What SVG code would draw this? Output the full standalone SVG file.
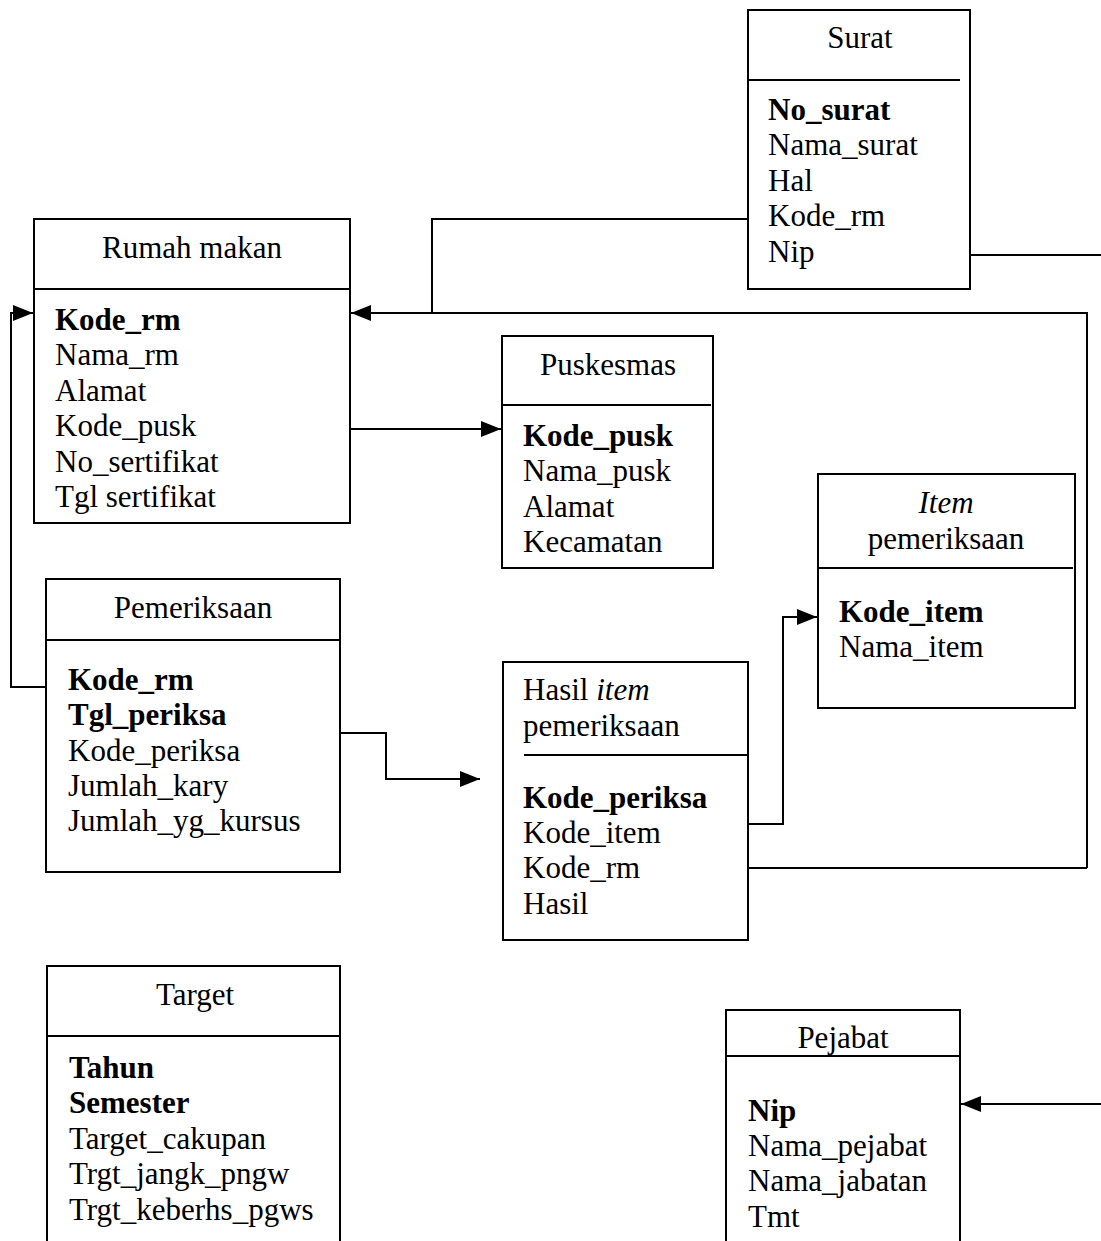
<svg xmlns="http://www.w3.org/2000/svg" width="1101" height="1241" viewBox="0 0 1101 1241">
<style>
.box{fill:#fff;stroke:#000;stroke-width:2}
.div{stroke:#000;stroke-width:2}
text{font-family:"Liberation Serif","Times New Roman",serif;font-size:31px;fill:#000}
.t{text-anchor:middle}
.b{font-weight:bold}
.i{font-style:italic}
.c{fill:none;stroke:#000;stroke-width:2}
</style>
<defs>
<marker id="ah" markerWidth="20" markerHeight="16" refX="20" refY="8" orient="auto" markerUnits="userSpaceOnUse">
<path d="M0,0 L20,8 L0,16 Z" fill="#000"/>
</marker>
</defs>
<rect width="1101" height="1241" fill="#fff"/>
<g id="connectors">
<path class="c" d="M748,219 H432 V313"/>
<path class="c" d="M1087,868 V313 H351" marker-end="url(#ah)"/>
<path class="c" d="M748,868 H1087"/>
<path class="c" d="M46,687 H11 V313 H33" marker-end="url(#ah)"/>
<path class="c" d="M350,429 H501" marker-end="url(#ah)"/>
<path class="c" d="M340,733 H386 V779 H480" marker-end="url(#ah)"/>
<path class="c" d="M748,824 H783 V617 H817" marker-end="url(#ah)"/>
<path class="c" d="M970,255 H1101"/>
<path class="c" d="M1101,1104 H961" marker-end="url(#ah)"/>
</g>
<g id="surat">
<rect class="box" x="748" y="10" width="222" height="279"/>
<line class="div" x1="748" y1="80" x2="960" y2="80"/>
<text class="t" x="860" y="48">Surat</text>
<text class="b" x="768" y="120">No_surat</text>
<text x="768" y="155">Nama_surat</text>
<text x="768" y="191">Hal</text>
<text x="768" y="226">Kode_rm</text>
<text x="768" y="262">Nip</text>
</g>
<g id="rumah-makan">
<rect class="box" x="34" y="219" width="316" height="304"/>
<line class="div" x1="34" y1="289" x2="350" y2="289"/>
<text class="t" x="192" y="258">Rumah makan</text>
<text class="b" x="55" y="330">Kode_rm</text>
<text x="55" y="365">Nama_rm</text>
<text x="55" y="401">Alamat</text>
<text x="55" y="436">Kode_pusk</text>
<text x="55" y="472">No_sertifikat</text>
<text x="55" y="507">Tgl sertifikat</text>
</g>
<g id="puskesmas">
<rect class="box" x="502" y="336" width="211" height="232"/>
<line class="div" x1="502" y1="405" x2="711" y2="405"/>
<text class="t" x="608" y="375">Puskesmas</text>
<text class="b" x="523" y="446">Kode_pusk</text>
<text x="523" y="481">Nama_pusk</text>
<text x="523" y="517">Alamat</text>
<text x="523" y="552">Kecamatan</text>
</g>
<g id="item-pemeriksaan">
<rect class="box" x="818" y="474" width="257" height="234"/>
<line class="div" x1="818" y1="568" x2="1073" y2="568"/>
<text class="t i" x="946" y="513">Item</text>
<text class="t" x="946" y="549">pemeriksaan</text>
<text class="b" x="839" y="622">Kode_item</text>
<text x="839" y="657">Nama_item</text>
</g>
<g id="pemeriksaan">
<rect class="box" x="46" y="579" width="294" height="293"/>
<line class="div" x1="46" y1="640" x2="340" y2="640"/>
<text class="t" x="193" y="618">Pemeriksaan</text>
<text class="b" x="68" y="690">Kode_rm</text>
<text class="b" x="68" y="725">Tgl_periksa</text>
<text x="68" y="761">Kode_periksa</text>
<text x="68" y="796">Jumlah_kary</text>
<text x="68" y="831">Jumlah_yg_kursus</text>
</g>
<g id="hasil-item-pemeriksaan">
<rect class="box" x="503" y="662" width="245" height="278"/>
<line class="div" x1="524" y1="755" x2="748" y2="755"/>
<text x="523" y="700">Hasil <tspan class="i">item</tspan></text>
<text x="523" y="736">pemeriksaan</text>
<text class="b" x="523" y="808">Kode_periksa</text>
<text x="523" y="843">Kode_item</text>
<text x="523" y="878">Kode_rm</text>
<text x="523" y="914">Hasil</text>
</g>
<g id="target">
<path class="c" d="M47,1241 V966 H340 V1241"/>
<line class="div" x1="47" y1="1036" x2="340" y2="1036"/>
<text class="t" x="195" y="1005">Target</text>
<text class="b" x="69" y="1078">Tahun</text>
<text class="b" x="69" y="1113">Semester</text>
<text x="69" y="1149">Target_cakupan</text>
<text x="69" y="1184">Trgt_jangk_pngw</text>
<text x="69" y="1220">Trgt_keberhs_pgws</text>
</g>
<g id="pejabat">
<path class="c" d="M726,1241 V1010 H960 V1241"/>
<line class="div" x1="726" y1="1056" x2="960" y2="1056"/>
<text class="t" x="843" y="1048">Pejabat</text>
<text class="b" x="748" y="1121">Nip</text>
<text x="748" y="1156">Nama_pejabat</text>
<text x="748" y="1191">Nama_jabatan</text>
<text x="748" y="1227">Tmt</text>
</g>
</svg>
